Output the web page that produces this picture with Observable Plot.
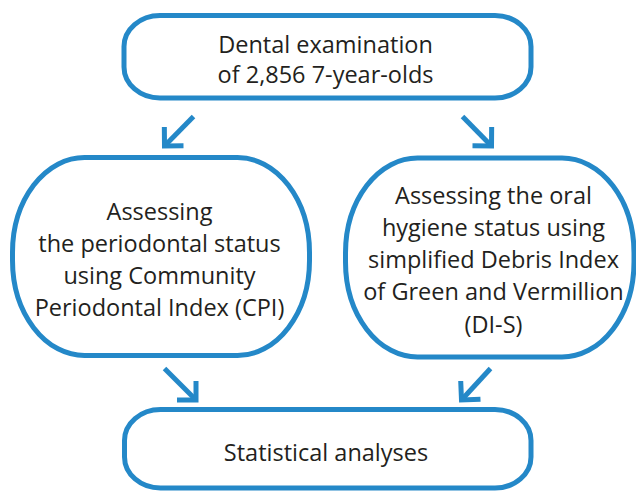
<!DOCTYPE html>
<html>
<head>
<meta charset="utf-8">
<script src="https://cdn.jsdelivr.net/npm/d3@7"></script>
<script src="https://cdn.jsdelivr.net/npm/@observablehq/plot@0.6"></script>
<style>
  html, body { margin: 0; padding: 0; background: #ffffff; }
  #chart svg { display: block; }
</style>
</head>
<body>
<div id="chart"></div>
<script>
// ---- content ----
const boxIds = ["exam", "cpi", "dis", "stats"];
const boxLabels = [
  "Dental examination\nof 2,856 7-year-olds",
  "Assessing\nthe periodontal status\nusing Community\nPeriodontal Index (CPI)",
  "Assessing the oral\nhygiene status using\nsimplified Debris Index\nof Green and Vermillion\n(DI-S)",
  "Statistical analyses"
];
const edgeFrom = ["exam", "exam", "cpi", "dis"];
const edgeTo = ["cpi", "dis", "stats", "stats"];

// ---- layout (pixel positions in the 636x491 frame) ----
const boxLeft   = [124, 12.5, 345.5, 124.5];
const boxRight  = [531, 309.5, 634, 531];
const boxTop    = [15.5, 157.5, 158, 409.5];
const boxBottom = [98, 355.5, 357, 488];
const boxShape  = ["pill", "round", "round", "pill"];
const textX     = [325, 159, 493, 325.5];
const textBase  = [82, 315, 332, 460.5];   // baseline of last line
const textLead  = [1.277, 1.35, 1.366, 1.3];
const arrowStart = [[193, 116], [462, 116], [164, 368], [490, 368]];
const arrowTip   = [[164, 145.5], [491, 145.5], [195.5, 399.5], [461, 399.5]];

const BLUE = "#2488c8";
const INK = "#231f20";
const FS = 23.5;
const WING = 19;

const boxes = boxIds.map((id, i) => ({
  id, label: boxLabels[i], shape: boxShape[i],
  x1: boxLeft[i], x2: boxRight[i], y1: boxTop[i], y2: boxBottom[i],
  tx: textX[i], ty: textBase[i], lead: textLead[i]
}));
const edges = edgeFrom.map((f, i) => ({
  from: f, to: edgeTo[i],
  x1: arrowStart[i][0], y1: arrowStart[i][1],
  x2: arrowTip[i][0], y2: arrowTip[i][1]
}));
// arrowhead chevrons (open, 90 degree), derived from each edge's direction
const heads = [];
edges.forEach((e, k) => {
  const a = Math.atan2(e.y1 - e.y2, e.x1 - e.x2);
  for (const s of [-1, 0, 1]) {
    if (s === 0) heads.push({k, x: e.x2, y: e.y2, o: 1});
    else heads.push({k, x: e.x2 + WING * Math.cos(a + s * Math.PI / 4), y: e.y2 + WING * Math.sin(a + s * Math.PI / 4), o: 1 + s});
  }
});
heads.sort((p, q) => p.k - q.k || p.o - q.o);

const textMarks = boxes.map(b => Plot.text([b], {
  x: "tx", y: "ty", text: "label",
  lineAnchor: "bottom", lineHeight: b.lead,
  textAnchor: "middle",
  fontSize: FS, fontFamily: "Open Sans", fill: INK
}));

const chart = Plot.plot({
  width: 636,
  height: 491,
  margin: 0,
  x: {domain: [0, 636], range: [0, 636], axis: null},
  y: {domain: [0, 491], range: [0, 491], axis: null},
  style: {background: "#ffffff"},
  marks: [
    Plot.rect(boxes.filter(b => b.shape === "pill"), {
      x1: "x1", x2: "x2", y1: "y1", y2: "y2",
      rx: 36, ry: 31, fill: "white", stroke: BLUE, strokeWidth: 5
    }),
    Plot.rect(boxes.filter(b => b.shape === "round"), {
      x1: "x1", x2: "x2", y1: "y1", y2: "y2",
      rx: 72, ry: 95, fill: "white", stroke: BLUE, strokeWidth: 5
    }),
    Plot.link(edges, {
      x1: "x1", y1: "y1", x2: "x2", y2: "y2",
      stroke: BLUE, strokeWidth: 5, strokeLinecap: "butt"
    }),
    Plot.line(heads, {
      x: "x", y: "y", z: "k",
      stroke: BLUE, strokeWidth: 5, strokeLinejoin: "miter", strokeLinecap: "butt",
      strokeMiterlimit: 10
    }),
    ...textMarks
  ]
});
document.getElementById("chart").appendChild(chart);
</script>
</body>
</html>
